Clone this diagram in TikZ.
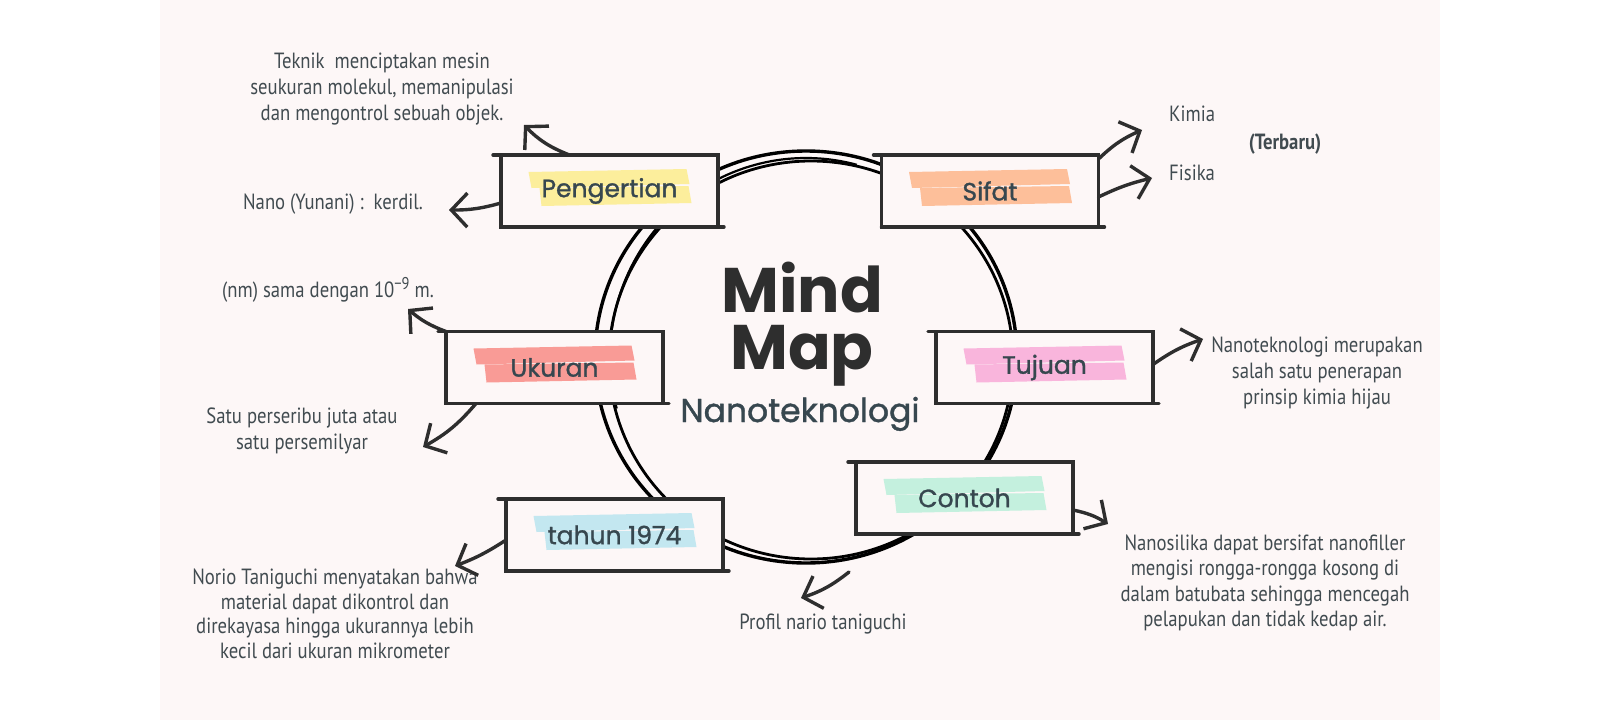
\documentclass[tikz,border=0pt]{standalone}
\usepackage{fontspec}
\usepackage{tikz}
\usetikzlibrary{arrows.meta,positioning,calc}
\setmainfont{PT Sans}
\newfontfamily\notefont[FakeStretch=0.85]{PT Sans}
\newfontfamily\handfont{Poppins}
\newfontfamily\labelfont[FakeBold=1.2]{Poppins}

\definecolor{paper}{HTML}{FDF7F7}
\definecolor{ink}{HTML}{2E2E2E}
\definecolor{slate}{HTML}{37474F}
\definecolor{notegray}{HTML}{414B50}
\definecolor{hlyellow}{HTML}{FCEE9C}
\definecolor{hlpeach}{HTML}{FDBF9A}
\definecolor{hlsalmon}{HTML}{F99B96}
\definecolor{hlpink}{HTML}{F9B5DC}
\definecolor{hlmint}{HTML}{C4F0DE}
\definecolor{hlblue}{HTML}{C3E7F0}

\begin{document}
\begin{tikzpicture}[x=1pt, y=-1pt, >=Latex]
  \tikzstyle{ring}=[draw=black, line width=3.4pt]
  \tikzstyle{edgeline}=[draw=ink, line width=3.4pt, line cap=round]
  \tikzstyle{topic}=[draw=ink, line width=3.4pt, fill=paper, outer sep=0pt, inner sep=0pt,
    minimum width=217pt, minimum height=72pt, text=slate, font=\labelfont\fontsize{25}{25}\selectfont,
    append after command={(\tikzlastnode.north east) edge[edgeline, shorten >=-8pt] (\tikzlastnode.north west)
      (\tikzlastnode.south west) edge[edgeline, shorten >=-6pt] (\tikzlastnode.south east)}]
  \tikzstyle{note}=[align=center, inner sep=0pt, text=notegray, font=\notefont\fontsize{22}{26}\selectfont]
  \tikzstyle{arr}=[draw=ink, line width=3.4pt, line cap=round, line join=round,
    -{Straight Barb[length=16pt, width=34pt, line width=3.4pt]}]
  \tikzset{brush/.style={path picture={
    \fill[#1] ($(path picture bounding box.center)+(-81,-19)$) -- ++(158,-3) -- ++(3,15) -- ++(-158,4) -- cycle;
    \fill[#1] ($(path picture bounding box.center)+(-70,-3)$) -- ++(149,-2) -- ++(3,17) -- ++(-150,3) -- cycle;
  }}}

  % page and paper
  \useasboundingbox (0,0) rectangle (1600,720);
  \fill[white] (0,0) rectangle (1600,720);
  \fill[paper] (160,0) rectangle (1440,720);

  % sketchy ring
  \draw[ring] (806,357) ellipse [x radius=211, y radius=206];
  \draw[ring, line width=2.8pt] (811,360) ellipse [x radius=202, y radius=199];
  \draw[ring, line width=2.2pt] (806,357) ++(165:196 and 199) arc[start angle=165, end angle=285, x radius=196, y radius=199];

  % topics
  \node[topic, brush=hlyellow] (pengertian) at (609.5,191) {Pengertian};
  \node[topic, brush=hlpeach] (sifat) at (990,191) {Sifat};
  \node[topic, brush=hlsalmon] (ukuran) at (554.5,367.5) {Ukuran};
  \node[topic, brush=hlpink] (tujuan) at (1044.5,367.5) {Tujuan};
  \node[topic, brush=hlmint] (contoh) at (964.5,498) {Contoh};
  \node[topic, brush=hlblue] (tahun) at (614.5,535) {tahun 1974};

  % title
  \node[anchor=base, text=ink, font=\handfont\bfseries\fontsize{63}{63}\selectfont] (mind) at (802,312) {Mind};
  \node[anchor=base, text=ink, font=\handfont\bfseries\fontsize{63}{63}\selectfont] (map) at (802,369) {Map};
  \node[anchor=base, text=slate, font=\labelfont\fontsize{33}{33}\selectfont] (nanotek) at (800,422) {Nanoteknologi};

  % notes
  \node[note] (teknik) at (382,89) {Teknik\ \ menciptakan mesin\\seukuran molekul, memanipulasi\\dan mengontrol sebuah objek.};
  \node[note] (nano) at (333,204) {Nano (Yunani) :\ \ kerdil.};
  \node[note] (nm) at (328,290) {(nm) sama dengan 10\raisebox{8pt}{\fontsize{17}{17}\selectfont −9} m.};
  \node[note] (satu) at (302,431) {Satu perseribu juta atau\\satu persemilyar};
  \node[note, font=\notefont\fontsize{22}{24.5}\selectfont] (norio) at (335,614) {Norio Taniguchi menyatakan bahwa\\material dapat dikontrol dan\\direkayasa hingga ukurannya lebih\\kecil dari ukuran mikrometer};
  \node[note] (profil) at (823,624) {Profil nario taniguchi};
  \node[note, font=\notefont\fontsize{22}{25.3}\selectfont] (silika) at (1265,583) {Nanosilika dapat bersifat nanofiller\\mengisi rongga-rongga kosong di\\dalam batubata sehingga mencegah\\pelapukan dan tidak kedap air.};
  \node[note] (hijau) at (1317,373) {Nanoteknologi merupakan\\salah satu penerapan\\prinsip kimia hijau};
  \node[note, anchor=west] (kimia) at (1169,114) {Kimia};
  \node[note, anchor=west] (fisika) at (1169,173) {Fisika};
  \node[note, font=\notefont\bfseries\fontsize{22}{26}\selectfont] (terbaru) at (1285,144) {(Terbaru)};

  % arrow tips
  \coordinate (t-teknik) at (524,125);
  \coordinate (t-nano) at (449,210);
  \coordinate (t-kimia) at (1142,130);
  \coordinate (t-fisika) at (1152,178);
  \coordinate (t-nm) at (408,309);
  \coordinate (t-satu) at (423,447);
  \coordinate (t-hijau) at (1203,339);
  \coordinate (t-norio) at (455,566);
  \coordinate (t-silika) at (1108,524);
  \coordinate (t-profil) at (801,598);
  \coordinate (ringlow) at (849,572);

  \draw[arr] ($(pengertian.north)+(-40,0)$) to[bend left=12] (t-teknik);
  \draw[arr] ($(pengertian.west)+(0,12)$) to[bend left=8] (t-nano);
  \draw[arr] ($(sifat.north east)+(0,4)$) to[bend left=10] (t-kimia);
  \draw[arr] ($(sifat.east)+(0,6)$) to[bend left=6] (t-fisika);
  \draw[arr] (ukuran.north west) to[bend left=10] (t-nm);
  \draw[arr] ($(ukuran.south west)+(30,0)$) to[bend left=10] (t-satu);
  \draw[arr] ($(tujuan.east)+(0,-3)$) to[bend left=8] (t-hijau);
  \draw[arr] ($(tahun.west)+(0,5)$) to[bend left=6] (t-norio);
  \draw[arr] ($(contoh.east)+(0,12)$) to[bend left=10] (t-silika);
  \draw[arr] (ringlow) to[bend left=10] (t-profil);
\end{tikzpicture}
\end{document}
